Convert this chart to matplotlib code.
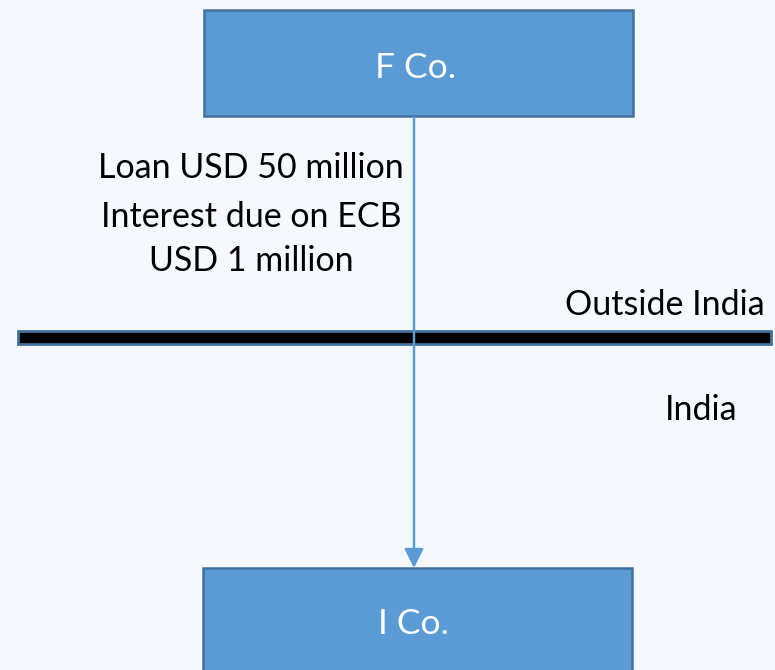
import matplotlib.pyplot as plt
from matplotlib.patches import Rectangle, FancyArrowPatch

plt.rcParams['font.family'] = ['Lato', 'DejaVu Sans']

# box labels and flow text
boxes = ['F Co.', 'I Co.']
flow_lines = ['Loan USD 50 million', 'Interest due on ECB', 'USD 1 million']
regions = ['Outside India', 'India']

bg = '#F5F9FE'
fill = '#5B9BD5'
edge = '#41719C'

fig = plt.figure(figsize=(7.75, 6.7), dpi=100, facecolor=bg)
ax = fig.add_axes([0, 0, 1, 1])
ax.set_xlim(0, 775)
ax.set_ylim(670, 0)
ax.axis('off')
ax.set_facecolor(bg)

# boxes
for (x, y, w, h), name in zip([(204, 10, 429, 106), (203, 568, 429, 120)], boxes):
    ax.add_patch(Rectangle((x, y), w, h, facecolor=fill, edgecolor=edge, lw=1.8))
ax.text(416, 68, boxes[0], ha='center', va='center', color='white', fontsize=25.5)
ax.text(414, 624, boxes[1], ha='center', va='center', color='white', fontsize=25.5)

# border line between regions
ax.add_patch(Rectangle((18, 331), 753, 13, facecolor='black', edgecolor=edge, lw=2))

# arrow
ax.add_patch(FancyArrowPatch((414, 118), (414, 568),
                             arrowstyle='-|>,head_length=0.58,head_width=0.29',
                             mutation_scale=20, color=fill, lw=1.8,
                             shrinkA=0, shrinkB=0))

for y, s in zip([168, 217, 261], flow_lines):
    ax.text(251, y, s, ha='center', va='center', fontsize=24.5, color='black')

ax.text(665, 305, regions[0], ha='center', va='center', fontsize=24.5)
ax.text(701, 410, regions[1], ha='center', va='center', fontsize=24.5)

fig.savefig('out.png', dpi=100, facecolor=bg)
